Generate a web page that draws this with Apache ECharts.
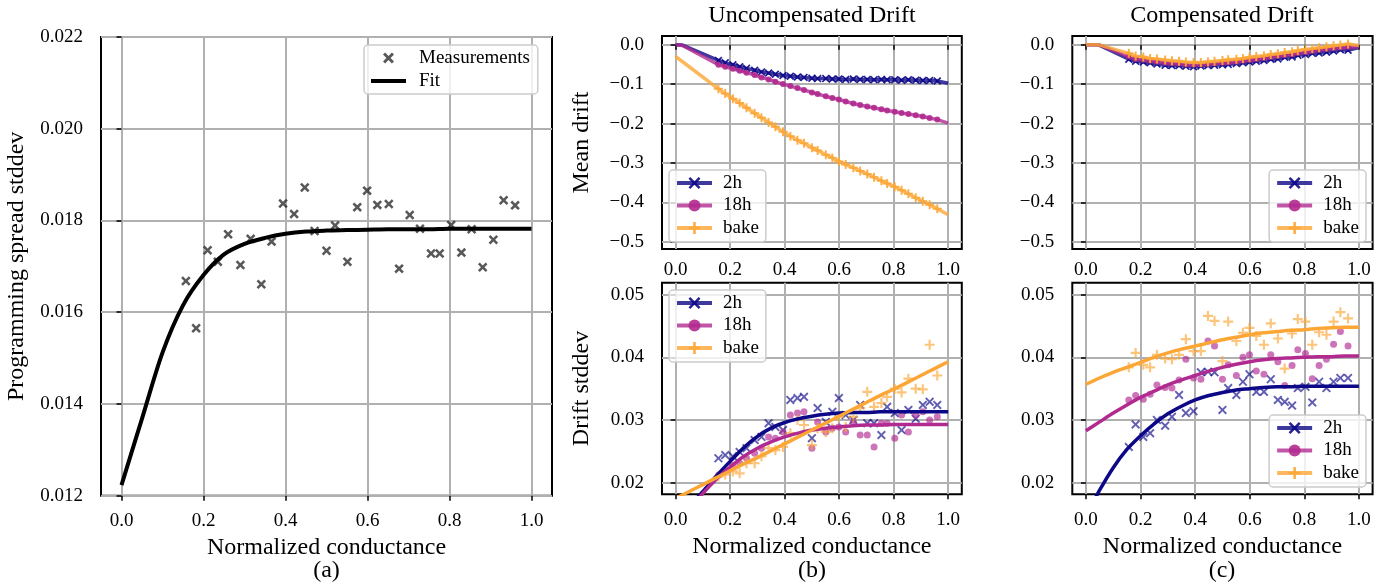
<!DOCTYPE html>
<html><head><meta charset="utf-8">
<script src="https://cdn.jsdelivr.net/npm/echarts@6/dist/echarts.min.js"></script>
<style>html,body{margin:0;padding:0;background:#fff}#c{width:1396px;height:585px}</style>
</head><body><div id="c"></div>
<script>
// ---------- data ----------
const levelX = [0.157,0.182,0.210,0.235,0.260,0.290,0.315,0.341,0.366,0.394,0.421,0.447,0.471,0.500,0.521,0.551,0.575,0.599,0.624,0.652,0.677,0.703,0.728,0.755,0.776,0.804,0.829,0.854,0.881,0.907,0.932,0.960];
const spreadMeas = [0.01668,0.01565,0.01735,0.01710,0.01770,0.01703,0.01760,0.01661,0.01754,0.01837,0.01814,0.01872,0.01777,0.01734,0.01789,0.01710,0.01829,0.01865,0.01834,0.01836,0.01695,0.01812,0.01782,0.01728,0.01728,0.01790,0.01730,0.01781,0.01698,0.01758,0.01844,0.01833];
const fitX = [0,0.05,0.1,0.15,0.2,0.25,0.3,0.35,0.4,0.45,0.5,0.55,0.6,0.65,0.7,0.75,0.8,0.85,0.9,0.95,1.0];
const spreadFit = [0.01223,0.01368,0.01512,0.01615,0.01681,0.01726,0.01749,0.01762,0.01771,0.01776,0.01778,0.01779,0.01780,0.01781,0.01781,0.01781,0.01782,0.01782,0.01782,0.01782,0.01782];

// mean drift (uncompensated)
const unc2h = [-0.040,-0.046,-0.051,-0.056,-0.060,-0.065,-0.069,-0.072,-0.075,-0.078,-0.080,-0.082,-0.083,-0.085,-0.086,-0.086,-0.087,-0.087,-0.088,-0.087,-0.088,-0.088,-0.089,-0.088,-0.089,-0.089,-0.090,-0.089,-0.090,-0.091,-0.091,-0.092];
const unc18h = [-0.051,-0.056,-0.061,-0.066,-0.071,-0.077,-0.083,-0.088,-0.094,-0.100,-0.105,-0.110,-0.115,-0.121,-0.125,-0.131,-0.135,-0.139,-0.144,-0.149,-0.153,-0.157,-0.160,-0.164,-0.167,-0.170,-0.173,-0.176,-0.179,-0.182,-0.186,-0.190];
const uncBake = [-0.112,-0.124,-0.137,-0.148,-0.160,-0.174,-0.185,-0.197,-0.208,-0.221,-0.232,-0.242,-0.250,-0.261,-0.268,-0.279,-0.287,-0.296,-0.304,-0.312,-0.320,-0.328,-0.336,-0.345,-0.352,-0.360,-0.369,-0.378,-0.388,-0.397,-0.406,-0.416];
const uncLead2h = [[0,0],[0.025,-0.001]];
const uncLead18h = [[0,0],[0.025,-0.002]];
const uncLeadBake = [[0,-0.030]];
const uncTail = [-0.098,-0.199,-0.431];   // 2h, 18h, bake at x = 1.0

// mean drift (compensated)
const comp2h = [-0.037,-0.042,-0.044,-0.046,-0.049,-0.052,-0.053,-0.053,-0.055,-0.056,-0.054,-0.053,-0.052,-0.051,-0.050,-0.048,-0.046,-0.044,-0.042,-0.040,-0.037,-0.036,-0.032,-0.031,-0.027,-0.025,-0.022,-0.021,-0.019,-0.016,-0.013,-0.014];
const comp18h = [-0.030,-0.036,-0.038,-0.041,-0.043,-0.046,-0.047,-0.048,-0.050,-0.051,-0.050,-0.049,-0.048,-0.046,-0.045,-0.043,-0.041,-0.039,-0.037,-0.034,-0.031,-0.029,-0.027,-0.024,-0.021,-0.019,-0.016,-0.013,-0.011,-0.009,-0.007,-0.006];
const compBake = [-0.022,-0.029,-0.031,-0.035,-0.036,-0.039,-0.041,-0.042,-0.044,-0.045,-0.045,-0.043,-0.042,-0.040,-0.038,-0.037,-0.035,-0.032,-0.030,-0.028,-0.025,-0.023,-0.020,-0.018,-0.015,-0.012,-0.010,-0.008,-0.005,-0.003,-0.001,0.002];
const compLead = [[0,0],[0.045,0]];
const compTail = [-0.007,-0.006,-0.002];

// drift stddev (uncompensated)
const unc2hSd = [0.0239,0.0244,0.0242,0.0249,0.0255,0.0268,0.0273,0.0295,0.0289,0.0284,0.0332,0.0335,0.0337,0.0271,0.0319,0.0297,0.0313,0.0335,0.0308,0.0300,0.0324,0.0295,0.0295,0.0276,0.0321,0.0311,0.0284,0.0316,0.0302,0.0324,0.0329,0.0324];
const unc18hSd = [0.0212,0.0219,0.0228,0.0231,0.0239,0.0247,0.0255,0.0273,0.0271,0.0281,0.0308,0.0311,0.0313,0.0255,0.0297,0.0281,0.0287,0.0289,0.0281,0.0297,0.0276,0.0276,0.0257,0.0295,0.0295,0.0271,0.0308,0.0281,0.0308,0.0313,0.0300,0.0305];
const uncBakeSd = [0.0210,0.0213,0.0218,0.0215,0.0231,0.0231,0.0242,0.0255,0.0252,0.0257,0.0279,0.0300,0.0292,0.0260,0.0287,0.0281,0.0287,0.0305,0.0289,0.0305,0.0319,0.0345,0.0321,0.0327,0.0337,0.0350,0.0344,0.0366,0.0350,0.0349,0.0420,0.0371];
const uncFit2h = [0.0138,0.0162,0.0186,0.0211,0.0234,0.0256,0.0274,0.0287,0.0296,0.0302,0.0306,0.0309,0.0311,0.0312,0.0312,0.0313,0.0313,0.0313,0.0313,0.0313,0.0313];
const uncFit18h = [0.0125,0.0155,0.0183,0.0206,0.0225,0.0242,0.0255,0.0265,0.0273,0.0279,0.0284,0.0287,0.0289,0.0291,0.0292,0.0292,0.0293,0.0293,0.0293,0.0293,0.0293];
const uncFitBake = [0.0175,0.0186,0.0197,0.0208,0.0219,0.0230,0.0240,0.0251,0.0262,0.0273,0.0284,0.0295,0.0306,0.0317,0.0328,0.0339,0.0349,0.0360,0.0371,0.0382,0.0393];

// drift stddev (compensated)
const comp2hSd = [0.0257,0.0293,0.0273,0.0279,0.0300,0.0291,0.0305,0.0340,0.0311,0.0314,0.0376,0.0377,0.0376,0.0316,0.0351,0.0340,0.0361,0.0373,0.0345,0.0345,0.0365,0.0332,0.0329,0.0323,0.0351,0.0353,0.0328,0.0361,0.0351,0.0361,0.0367,0.0367];
const comp18hSd = [0.0332,0.0339,0.0333,0.0341,0.0356,0.0352,0.0351,0.0364,0.0397,0.0367,0.0365,0.0426,0.0418,0.0365,0.0388,0.0371,0.0400,0.0404,0.0378,0.0373,0.0404,0.0393,0.0355,0.0387,0.0412,0.0406,0.0366,0.0387,0.0397,0.0421,0.0441,0.0418];
const compBakeSd = [0.0384,0.0407,0.0388,0.0384,0.0404,0.0398,0.0397,0.0404,0.0429,0.0410,0.0410,0.0466,0.0458,0.0394,0.0457,0.0426,0.0439,0.0447,0.0434,0.0420,0.0454,0.0430,0.0382,0.0438,0.0461,0.0457,0.0420,0.0440,0.0436,0.0457,0.0472,0.0462];
const compFit2h = [0.0147,0.0188,0.0224,0.0253,0.0275,0.0294,0.0310,0.0322,0.0332,0.0339,0.0344,0.0348,0.0350,0.0352,0.0353,0.0353,0.0354,0.0354,0.0354,0.0354,0.0354];
const compFit18h = [0.0283,0.0297,0.0311,0.0324,0.0336,0.0346,0.0356,0.0364,0.0371,0.0378,0.0384,0.0389,0.0393,0.0396,0.0398,0.0399,0.0400,0.0401,0.0401,0.0402,0.0402];
const compFitBake = [0.0357,0.0367,0.0376,0.0384,0.0392,0.0400,0.0407,0.0413,0.0418,0.0423,0.0428,0.0432,0.0436,0.0439,0.0441,0.0443,0.0444,0.0446,0.0447,0.0448,0.0448];

// tick values
const condTicks = [0,0.2,0.4,0.6,0.8,1.0];
const spreadTicks = [0.012,0.014,0.016,0.018,0.020,0.022];
const meanTicks = [0,-0.1,-0.2,-0.3,-0.4,-0.5];
const sdTicks = [0.02,0.03,0.04,0.05];
const seriesNames = ['2h','18h','bake'];
const seriesColors = ['#0d0887','#b12a90','#fca636'];

// ---------- styling ----------
const F = '"Liberation Serif","DejaVu Serif",serif';
const X_SYM = 'path://M0,1.5L1.5,0L5,3.5L8.5,0L10,1.5L6.5,5L10,8.5L8.5,10L5,6.5L1.5,10L0,8.5L3.5,5Z';
const X_BOLD = 'path://M0,1.9L1.9,0L5,3.1L8.1,0L10,1.9L6.9,5L10,8.1L8.1,10L5,6.9L1.9,10L0,8.1L3.1,5Z';
const PLUS_SYM = 'path://M3.9,0H6.1V3.9H10V6.1H6.1V10H3.9V6.1H0V3.9H3.9Z';
const symbols = [X_SYM, 'circle', PLUS_SYM];
const symSizeTop = [8, 6, 9];
const symSizeSd = [9, 7, 10];
const minus = s => s.replace('-', '\u2212');

const zip = (xs, ys) => xs.map((x, i) => [x, ys[i]]);

function xAxis(gi, margin, name) {
  return {
    type: 'value', gridIndex: gi, min: -0.05, max: 1.05,
    axisLine: {show: false},
    axisTick: {show: true, inside: false, length: 5, lineStyle: {color: '#000', width: 1.5}, customValues: condTicks},
    axisLabel: {customValues: condTicks, formatter: v => v.toFixed(1), margin: margin, color: '#000', fontFamily: F, fontSize: 19},
    splitLine: {show: true, lineStyle: {color: '#b0b0b0', width: 2}},
    name: name || '', nameLocation: 'middle', nameGap: 40,
    nameTextStyle: {color: '#000', fontFamily: F, fontSize: 24}
  };
}
function yAxis(gi, min, max, ticks, fmt, name, gap) {
  return {
    type: 'value', gridIndex: gi, min: min, max: max,
    axisLine: {show: false},
    axisTick: {show: true, inside: false, length: 5, lineStyle: {color: '#000', width: 1.5}, customValues: ticks},
    axisLabel: {customValues: ticks, formatter: fmt, margin: 18, color: '#000', fontFamily: F, fontSize: 19},
    splitLine: {show: true, lineStyle: {color: '#b0b0b0', width: 2}},
    name: name || '', nameLocation: 'middle', nameGap: gap || 60,
    nameTextStyle: {color: '#000', fontFamily: F, fontSize: 24}
  };
}
const gridBase = {show: true, borderColor: '#000', borderWidth: 2, backgroundColor: '#fff', containLabel: false};

function legend(pos) {
  return Object.assign({
    orient: 'vertical', selectedMode: false,
    data: seriesNames,
    itemWidth: 35, itemHeight: 15, itemGap: 2.5,
    padding: [3, 7, 4, 6],
    lineStyle: {width: 4},
    backgroundColor: 'rgba(255,255,255,0.8)', borderColor: '#cccccc', borderWidth: 1.5, borderRadius: 4,
    textStyle: {color: '#000', fontFamily: F, fontSize: 19, lineHeight: 20, padding: [0, 0, 0, 6]}
  }, pos);
}

const series = [];
// top mean-drift lines
function meanLine(gi, k, vals, lead, tail) {
  const data = lead.map(p => ({value: p, symbol: 'none'}))
    .concat(zip(levelX, vals))
    .concat([{value: [1.0, tail], symbol: 'none'}]);
  return {
    type: 'line', name: seriesNames[k], xAxisIndex: gi, yAxisIndex: gi,
    data: data, symbol: symbols[k], symbolSize: symSizeTop[k], showSymbol: true,
    lineStyle: {color: seriesColors[k], width: 3.5, opacity: 0.8},
    itemStyle: {color: seriesColors[k], opacity: 0.9},
    z: 3 + k, clip: true
  };
}
series.push(meanLine(1, 0, unc2h, uncLead2h, uncTail[0]));
series.push(meanLine(1, 1, unc18h, uncLead18h, uncTail[1]));
series.push(meanLine(1, 2, uncBake, uncLeadBake, uncTail[2]));
series.push(meanLine(3, 0, comp2h, compLead, compTail[0]));
series.push(meanLine(3, 1, comp18h, compLead, compTail[1]));
series.push(meanLine(3, 2, compBake, compLead, compTail[2]));

function sdScatter(gi, k, vals) {
  return {
    type: 'scatter', name: seriesNames[k], xAxisIndex: gi, yAxisIndex: gi,
    data: zip(levelX, vals), symbol: symbols[k], symbolSize: symSizeSd[k],
    itemStyle: {color: seriesColors[k], opacity: 0.65}, z: 2, clip: true
  };
}
function sdFit(gi, k, vals) {
  return {
    type: 'line', name: seriesNames[k], xAxisIndex: gi, yAxisIndex: gi,
    data: zip(fitX, vals), symbol: 'none', smooth: 0.3,
    lineStyle: {color: seriesColors[k], width: 3.5}, itemStyle: {color: seriesColors[k]},
    z: 4, clip: true
  };
}
[unc2hSd, unc18hSd, uncBakeSd].forEach((v, k) => series.push(sdScatter(2, k, v)));
[uncFit2h, uncFit18h, uncFitBake].forEach((v, k) => series.push(sdFit(2, k, v)));
[comp2hSd, comp18hSd, compBakeSd].forEach((v, k) => series.push(sdScatter(4, k, v)));
[compFit2h, compFit18h, compFitBake].forEach((v, k) => series.push(sdFit(4, k, v)));

series.push({
  type: 'scatter', name: 'Measurements', xAxisIndex: 0, yAxisIndex: 0,
  data: zip(levelX, spreadMeas), symbol: X_BOLD, symbolSize: 9.5,
  itemStyle: {color: '#2e2e2e'}, z: 3
});
series.push({
  type: 'line', name: 'Fit', xAxisIndex: 0, yAxisIndex: 0,
  data: zip(fitX, spreadFit), symbol: 'none', smooth: 0.3,
  lineStyle: {color: '#000', width: 4}, itemStyle: {color: '#000'}, z: 4
});

const option = {
  animation: false,
  backgroundColor: '#fff',
  grid: [
    Object.assign({left: 101, top: 37, width: 451, height: 458.7}, gridBase),
    Object.assign({left: 662, top: 36, width: 299.8, height: 213}, gridBase),
    Object.assign({left: 662, top: 282.7, width: 299.8, height: 211.6}, gridBase),
    Object.assign({left: 1072.3, top: 36, width: 300.3, height: 213}, gridBase),
    Object.assign({left: 1072.3, top: 282.7, width: 300.3, height: 211.6}, gridBase)
  ],
  xAxis: [
    xAxis(0, 16, 'Normalized conductance'),
    xAxis(1, 12),
    xAxis(2, 16, 'Normalized conductance'),
    xAxis(3, 12),
    xAxis(4, 16, 'Normalized conductance')
  ],
  yAxis: [
    yAxis(0, 0.012, 0.022, spreadTicks, v => v.toFixed(3), 'Programming spread stddev', 72),
    yAxis(1, -0.518, 0.022, meanTicks, v => minus(v.toFixed(1)), 'Mean drift', 68),
    yAxis(2, 0.01815, 0.0519, sdTicks, v => v.toFixed(2), 'Drift stddev', 68),
    yAxis(3, -0.518, 0.022, meanTicks, v => minus(v.toFixed(1))),
    yAxis(4, 0.01815, 0.0519, sdTicks, v => v.toFixed(2))
  ],
  legend: [
    {
      orient: 'vertical', selectedMode: false, left: 364, top: 45,
      data: ['Measurements', {name: 'Fit', itemStyle: {opacity: 0}}],
      itemWidth: 35, itemHeight: 11, itemGap: 3,
      padding: [3, 8, 3, 5],
      lineStyle: {width: 4},
      backgroundColor: 'rgba(255,255,255,0.8)', borderColor: '#cccccc', borderWidth: 1.5, borderRadius: 4,
      textStyle: {color: '#000', fontFamily: F, fontSize: 19, lineHeight: 20, padding: [0, 0, 0, 8]}
    },
    legend({left: 669, top: 170}),
    legend({left: 669, top: 290}),
    legend({right: 30, top: 170}),
    legend({right: 30, top: 415})
  ],
  graphic: [
    {type: 'text', x: 812, y: 16, style: {text: 'Uncompensated Drift', font: '24px ' + F, fill: '#000', align: 'center', verticalAlign: 'middle'}},
    {type: 'text', x: 1222, y: 16, style: {text: 'Compensated Drift', font: '24px ' + F, fill: '#000', align: 'center', verticalAlign: 'middle'}},
    {type: 'text', x: 326.5, y: 571, style: {text: '(a)', font: '24px ' + F, fill: '#000', align: 'center', verticalAlign: 'middle'}},
    {type: 'text', x: 812, y: 571, style: {text: '(b)', font: '24px ' + F, fill: '#000', align: 'center', verticalAlign: 'middle'}},
    {type: 'text', x: 1222, y: 571, style: {text: '(c)', font: '24px ' + F, fill: '#000', align: 'center', verticalAlign: 'middle'}}
  ],
  series: series
};
const chart = echarts.init(document.getElementById('c'), null, {renderer: 'canvas'});
chart.setOption(option);
</script></body></html>
